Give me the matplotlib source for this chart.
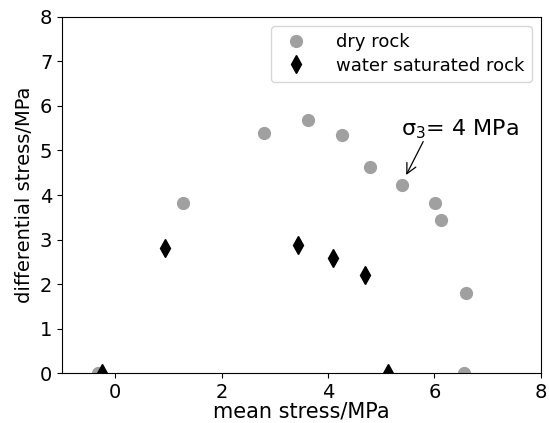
import matplotlib
matplotlib.use("Agg")
import matplotlib.pyplot as plt

# dry rock
dry_mean = [-0.33, 1.27, 2.79, 3.63, 4.27, 4.79, 5.39, 6.02, 6.13, 6.60, 6.55]
dry_diff = [0.0, 3.82, 5.40, 5.68, 5.35, 4.64, 4.23, 3.81, 3.43, 1.80, 0.0]

# water saturated rock
wet_mean = [-0.25, 0.93, 3.44, 4.10, 4.69, 5.12]
wet_diff = [0.0, 2.80, 2.87, 2.59, 2.20, 0.0]

fig = plt.figure(figsize=(5.49, 4.23), dpi=100)
ax = fig.add_axes([0.113, 0.118, 0.872, 0.842])

ax.plot(dry_mean, dry_diff, 'o', color='#a0a0a0', markersize=8.5, label='dry rock')
ax.plot(wet_mean, wet_diff, 'd', color='black', markersize=9, label='water saturated rock')

# annotation: arrow and label drawn separately
ax.annotate('', xy=(5.47, 4.45), xytext=(5.79, 5.2),
            arrowprops=dict(arrowstyle='->', color='black', lw=0.9,
                            shrinkA=0, shrinkB=0, mutation_scale=18))
ax.text(5.38, 5.33, r'$\mathregular{\sigma_3}$= 4 MPa', fontsize=16,
        ha='left', va='baseline')

ax.set_xlim(-1, 8)
ax.set_ylim(0, 8)
ax.set_xticks([0, 2, 4, 6, 8])
ax.set_yticks(range(0, 9))
ax.tick_params(labelsize=14)
ax.set_xlabel('mean stress/MPa', fontsize=15, labelpad=0)
ax.set_ylabel('differential stress/MPa', fontsize=14, labelpad=4)
ax.legend(loc='upper right', fontsize=13, handletextpad=1.2, borderpad=0.4,
          labelspacing=0.3)

fig.savefig('out.png', dpi=100)
